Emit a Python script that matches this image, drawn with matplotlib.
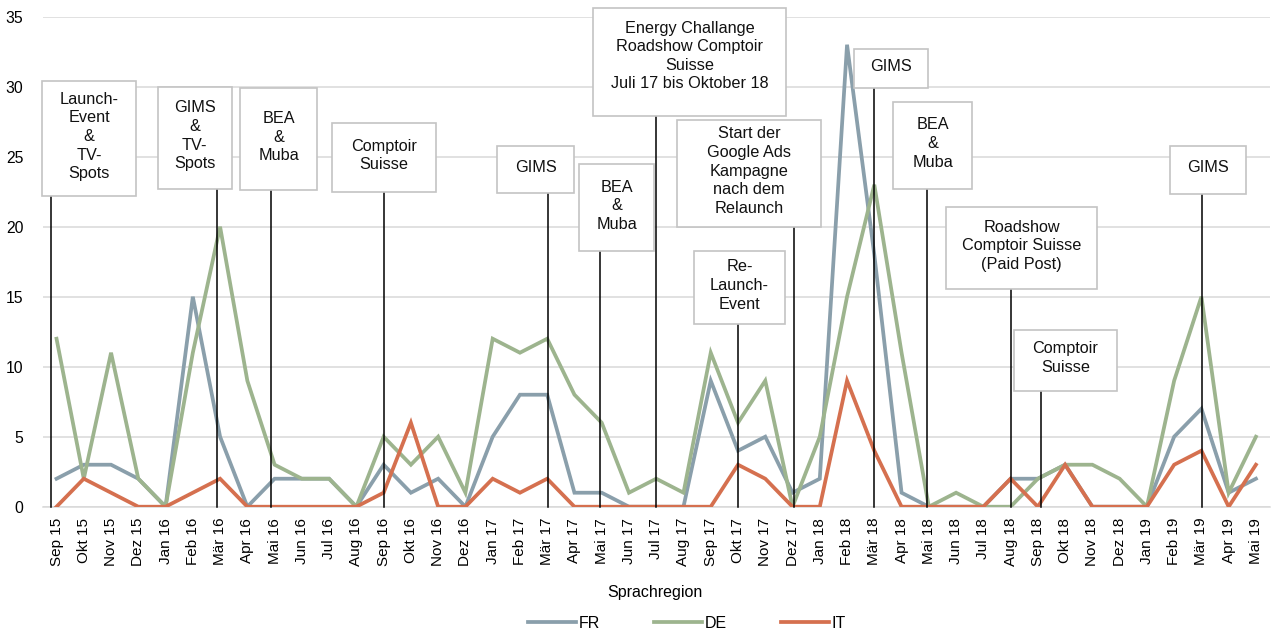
import matplotlib
matplotlib.use("Agg")
import matplotlib.pyplot as plt
from matplotlib.patches import Rectangle
from matplotlib.lines import Line2D

plt.rcParams['font.family'] = ['Liberation Sans', 'DejaVu Sans']

# months Sep 15 .. Mai 19
months = ['Sep 15', 'Okt 15', 'Nov 15', 'Dez 15', 'Jan 16', 'Feb 16', 'Mär 16', 'Apr 16',
          'Mai 16', 'Jun 16', 'Jul 16', 'Aug 16', 'Sep 16', 'Okt 16', 'Nov 16', 'Dez 16',
          'Jan 17', 'Feb 17', 'Mär 17', 'Apr 17', 'Mai 17', 'Jun 17', 'Jul 17', 'Aug 17',
          'Sep 17', 'Okt 17', 'Nov 17', 'Dez 17', 'Jan 18', 'Feb 18', 'Mär 18', 'Apr 18',
          'Mai 18', 'Jun 18', 'Jul 18', 'Aug 18', 'Sep 18', 'Okt 18', 'Nov 18', 'Dez 18',
          'Jan 19', 'Feb 19', 'Mär 19', 'Apr 19', 'Mai 19']

fr = [2, 3, 3, 2, 0, 15, 5, 0, 2, 2, 2, 0, 3, 1, 2, 0, 5, 8, 8, 1, 1, 0, 0, 0,
      9, 4, 5, 1, 2, 33, 18, 1, 0, 0, 0, 2, 2, 3, 0, 0, 0, 5, 7, 1, 2]
de = [12, 2, 11, 2, 0, 11, 20, 9, 3, 2, 2, 0, 5, 3, 5, 1, 12, 11, 12, 8, 6, 1, 2, 1,
      11, 6, 9, 0, 5, 15, 23, 11, 0, 1, 0, 0, 2, 3, 3, 2, 0, 9, 15, 1, 5]
it = [0, 2, 1, 0, 0, 1, 2, 0, 0, 0, 0, 0, 1, 6, 0, 0, 2, 1, 2, 0, 0, 0, 0, 0,
      0, 3, 2, 0, 0, 9, 4, 0, 0, 0, 0, 2, 0, 3, 0, 0, 0, 3, 4, 0, 3]

series = [('FR', fr, '#8A9FAB'), ('DE', de, '#9DB48E'), ('IT', it, '#D5704F')]

# events: text, position of the pointer line (month index), box (x0, x1, y0, y1) in data units
events = [
    ('Launch-\nEvent\n&\nTV-\nSpots', -0.2, (-0.52, 2.91, 22.2, 30.4)),
    ('GIMS\n&\nTV-\nSpots', 5.87, (3.71, 6.43, 22.7, 30.0)),
    ('BEA\n&\nMuba', 7.87, (6.74, 9.57, 22.6, 29.9)),
    ('Comptoir\nSuisse', 12.0, (10.10, 13.93, 22.5, 27.4)),
    ('GIMS', 18.03, (16.16, 18.99, 22.4, 25.75)),
    ('BEA\n&\nMuba', 19.95, (19.18, 21.92, 18.25, 24.45)),
    ('Energy Challange\nRoadshow Comptoir\nSuisse\nJuli 17 bis Oktober 18', 22.0, (19.69, 26.75, 27.9, 35.6)),
    ('Start der\nGoogle Ads\nKampagne\nnach dem\nRelaunch', 27.07, (22.77, 28.03, 20.0, 27.65)),
    ('Re-\nLaunch-\nEvent', 25.0, (23.39, 26.72, 13.05, 18.25)),
    ('GIMS', 30.0, (29.27, 31.98, 29.9, 32.7)),
    ('BEA\n&\nMuba', 31.93, (30.70, 33.60, 22.7, 28.9)),
    ('Roadshow\nComptoir Suisse\n(Paid Post)', 35.0, (32.62, 38.18, 15.55, 21.4)),
    ('Comptoir\nSuisse', 36.13, (35.14, 38.89, 8.3, 12.65)),
    ('GIMS', 42.01, (40.86, 43.65, 22.35, 25.75)),
]

fig = plt.figure(figsize=(12.73, 6.33), dpi=100)
ax = fig.add_axes([0.0337, 0.1995, 0.9636, 0.7741])

x = list(range(len(months)))
for name, vals, col in series:
    ax.plot(x, vals, color=col, lw=2.7, label=name, zorder=3, solid_joinstyle='miter')

for text, lx, (x0, x1, y0, y1) in events:
    ax.plot([lx, lx], [0, y0], color='black', lw=1.1, zorder=4, clip_on=False)
    ax.add_patch(Rectangle((x0, y0), x1 - x0, y1 - y0, facecolor='white',
                           edgecolor='#C4C4C4', lw=1.2, zorder=5, clip_on=False))
    ty = (y0 + y1) / 2
    if text.startswith('Energy'):
        # this box has an empty strip below the text
        ty = y1 - 3.55
    ax.text((x0 + x1) / 2, ty + 0.15, text, ha='center', va='center', fontsize=11.7,
            color='#111111', zorder=6, linespacing=1.3)

ax.set_xlim(-0.5, len(months) - 0.5)
ax.set_ylim(0, 35)
ax.set_yticks(range(0, 36, 5))
ax.set_xticks(x)
ax.set_xticklabels(months, rotation=90, fontsize=11)
ax.tick_params(axis='y', length=0, pad=14, labelsize=11.3)
ax.tick_params(axis='x', length=0, pad=8)
ax.grid(axis='y', color='#D9D9D9', lw=1.1, zorder=0)
ax.set_axisbelow(True)
for s in ['top', 'right', 'left']:
    ax.spines[s].set_visible(False)
ax.spines['bottom'].set_color('#D9D9D9')
ax.spines['bottom'].set_linewidth(1.1)

fig.text(655 / 1273, 1 - 593 / 633, 'Sprachregion', ha='center', va='center', fontsize=11.5)

handles = [Line2D([0], [0], color=c, lw=2.7) for _, _, c in series]
fig.legend(handles, [n for n, _, _ in series], loc='center', ncol=3,
           bbox_to_anchor=(687 / 1273, 1 - 623 / 633), frameon=False, fontsize=11.5,
           handlelength=3.0, handletextpad=0.15, columnspacing=3.4)

fig.savefig('out.png', dpi=100)
